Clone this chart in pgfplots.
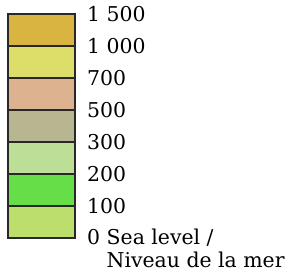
\documentclass[border=0pt]{standalone}
\usepackage{pgfplots}
\pgfplotsset{compat=1.18}
\usepackage{fontspec}
\setmainfont{DejaVu Serif}
\definecolor{cA}{RGB}{188,222,108}
\definecolor{cB}{RGB}{102,222,72}
\definecolor{cC}{RGB}{188,222,150}
\definecolor{cD}{RGB}{184,182,144}
\definecolor{cE}{RGB}{221,178,142}
\definecolor{cF}{RGB}{221,222,106}
\definecolor{cG}{RGB}{217,180,65}
\definecolor{edge}{RGB}{40,40,40}
\begin{document}
\begin{tikzpicture}
\begin{axis}[
  name=ax,
  scale only axis,
  width=67bp, height=224bp,
  xmin=0, xmax=1, ymin=0, ymax=7,
  ybar stacked, bar width=1, bar shift=0pt,
  axis line style={draw=none},
  xtick=\empty,
  ytick={0,1,2,3,4,5,6,7},
  yticklabel pos=right,
  major tick length=0pt,
  yticklabels={{0 \smash{\rlap{\raisebox{-1.12em}{Niveau de la mer}}}Sea level /},100,200,300,500,700,{1 000},{1 500}},
  yticklabel style={font=\fontsize{20.5}{24}\selectfont, inner sep=0pt, anchor=west, xshift=12bp},
  clip=false,
]
\addplot[fill=cA, draw=edge, line width=1.1bp] coordinates {(0.5,1)};
\addplot[fill=cB, draw=edge, line width=1.1bp] coordinates {(0.5,1)};
\addplot[fill=cC, draw=edge, line width=1.1bp] coordinates {(0.5,1)};
\addplot[fill=cD, draw=edge, line width=1.1bp] coordinates {(0.5,1)};
\addplot[fill=cE, draw=edge, line width=1.1bp] coordinates {(0.5,1)};
\addplot[fill=cF, draw=edge, line width=1.1bp] coordinates {(0.5,1)};
\addplot[fill=cG, draw=edge, line width=1.1bp] coordinates {(0.5,1)};
\end{axis}
\path (ax.south west) ++(-8bp,-35bp) coordinate (bl);
\path (ax.north east) ++(219bp,14bp) coordinate (tr);
\path[use as bounding box] (bl) rectangle (tr);
\end{tikzpicture}
\end{document}
